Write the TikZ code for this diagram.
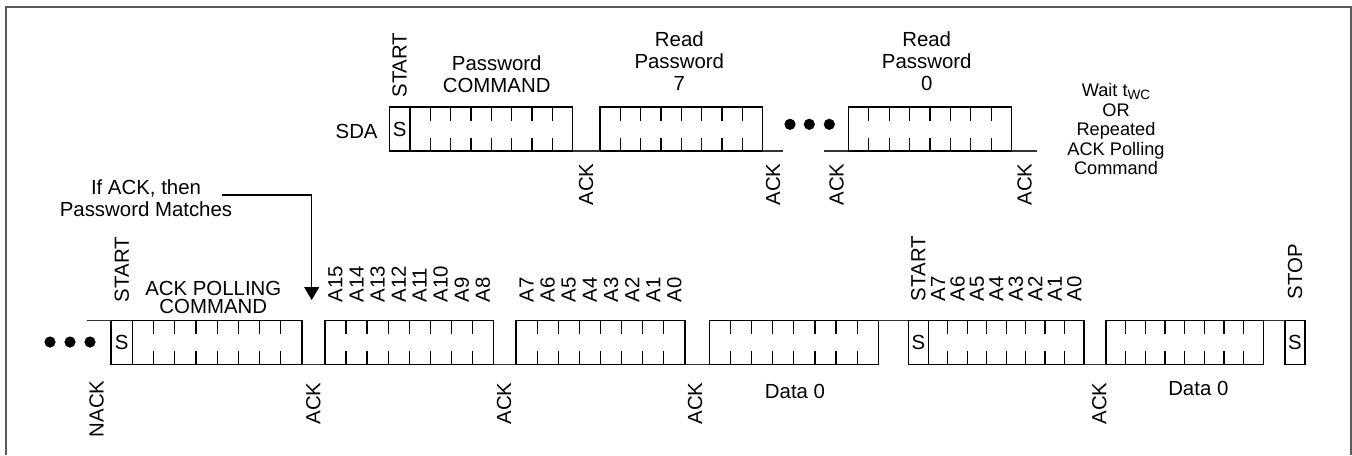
\documentclass[tikz,border=0pt]{standalone}
\usepackage{fontspec}
\setmainfont{Liberation Sans}
\usetikzlibrary{calc,arrows.meta}
\begin{document}
\begin{tikzpicture}[x=0.5pt,y=-0.5pt,
  font=\fontsize{10.2}{11}\selectfont,
  box/.style={draw, rectangle, line width=0.65pt, inner sep=0pt, outer sep=0pt, minimum height=22pt, anchor=north west},
  vlab/.style={rotate=90, inner sep=0pt},
  wire/.style={line width=0.65pt, draw=black!80},
  tick/.style={line width=0.6pt},
  ml/.style={align=center, inner sep=0pt},
  dot/.style={fill=black}]
\useasboundingbox (0,0) rectangle (1352,455);
\draw[line width=1pt, draw=black!65] (6,455) -- (6,6.7) -- (1350.5,6.7) -- (1350.5,455);

% ---------- top row ----------
\node[box, minimum width=10.35pt] (s1) at (389.3,107) {S};
\node[box, minimum width=81.35pt] (pc) at (410,107) {};
\node[box, minimum width=81.35pt] (rp7) at (600,107) {};
\node[box, minimum width=81.6pt] (rp0) at (848.3,107) {};

% ---------- bottom row ----------
\node[box, minimum width=10.75pt] (s2) at (111,320.5) {S};
\node[box, minimum width=84.75pt] (apc) at (132.5,320.5) {};
\node[box, minimum width=84.15pt] (ahi) at (325,320.5) {};
\node[box, minimum width=84.5pt] (alo) at (516,320.5) {};
\node[box, minimum width=84.5pt] (dA) at (709.3,320.5) {};
\node[box, minimum width=10pt] (s3) at (908.3,320.5) {S};
\node[box, minimum width=77.85pt] (alt) at (928.3,320.5) {};
\node[box, minimum width=78.65pt] (dB) at (1106,320.5) {};
\node[box, minimum width=10pt] (s4) at (1285,320.5) {S};

% bit ticks
\foreach \b in {pc,rp7,rp0,apc,ahi,alo,dA,alt,dB}
  \foreach \i in {1,...,7} {
    \draw[tick] ($(\b.north west)!{\i/8}!(\b.north east)$) -- ++(0,13.5);
    \draw[tick] ($(\b.south west)!{\i/8}!(\b.south east)$) -- ++(0,-13.5);
  }

% wires top
\coordinate (g1) at (783.3,151);
\coordinate (g2) at (824.3,151);
\coordinate (g3) at (1036.7,151);
\draw[wire] (pc.south east) -- (rp7.south west);
\draw[wire] (rp7.south east) -- (g1);
\draw[wire] (g2) -- (rp0.south west);
\draw[wire] (rp0.south east) -- (g3);
\foreach \x in {790,809.3,829.3} \fill[dot] (\x,124.3) circle[radius=2.8pt];

% wires bottom
\coordinate (n0) at (86.7,320.5);
\draw[wire] (n0) -- (s2.north west);
\draw[wire] (apc.south east) -- (ahi.south west);
\draw[wire] (ahi.south east) -- (alo.south west);
\draw[wire] (alo.south east) -- (dA.south west);
\draw[wire] (dA.north east) -- (s3.north west);
\draw[wire] (alt.south east) -- (dB.south west);
\draw[wire] (dB.north east) -- (s4.north west);
\foreach \x in {50,70,90} \fill[dot] (\x,342) circle[radius=2.8pt];

% labels top
\node[anchor=east, inner sep=0pt] (sda) at (378,131.7) {SDA};
\node[vlab, anchor=west] (st1) at ($(s1.north)+(0,-9)$) {START};
\node[ml] (pcl) at (496.7,74) {Password\\COMMAND};
\node[ml] (rp7l) at (679.3,61.5) {Read\\Password\\7};
\node[ml] (rp0l) at (926.7,61.5) {Read\\Password\\0};
\foreach \x/\n in {586/ka, 773/kb, 836.5/kc, 1024.5/kd}
  \node[vlab, anchor=east] (\n) at (\x,163) {ACK};
\node[ml, font=\fontsize{9.1}{9.75}\selectfont] (wait) at (1116,129)
  {Wait t\raisebox{-1.5pt}{\fontsize{6.8}{7}\selectfont WC}\\OR\\Repeated\\ACK Polling\\Command};

% labels bottom
\node[ml] (ifack) at (146,198) {If ACK, then\\Password Matches};
\coordinate (arS) at (222,195);
\coordinate (arT) at (311.7,300);
\draw[line width=0.65pt, -{Triangle[length=6.5pt,width=7.5pt]}] (arS) -- (arS -| arT) -- (arT);

\node[vlab, anchor=west] (st2) at ($(s2.north)+(0,-18)$) {START};
\node[ml, font=\fontsize{10.2}{8.6}\selectfont] (apcl) at (213.3,297.5) {ACK POLLING\\COMMAND};
\foreach \i/\t in {1/A15,2/A14,3/A13,4/A12,5/A11,6/A10,7/A9,8/A8}
  \node[vlab, anchor=west] (la\i) at ($(ahi.north west)!{(\i-0.5)/8}!(ahi.north east)+(0,-17.5)$) {\t};
\foreach \i/\t in {1/A7,2/A6,3/A5,4/A4,5/A3,6/A2,7/A1,8/A0}
  \node[vlab, anchor=west] (lb\i) at ($(alo.north west)!{(\i-0.5)/8}!(alo.north east)+(0,-17.5)$) {\t};
\foreach \i/\t in {1/A7,2/A6,3/A5,4/A4,5/A3,6/A2,7/A1,8/A0}
  \node[vlab, anchor=west] (lc\i) at ($(alt.north west)!{(\i-0.5)/8}!(alt.north east)+(0,-19)$) {\t};
\node[vlab, anchor=west] (st3) at ($(s3.north)+(0,-19)$) {START};
\node[vlab, anchor=west] (stop) at ($(s4.north)+(0,-21)$) {STOP};

\node[vlab, anchor=east] (nack) at (96.7,380) {NACK};
\foreach \x/\n in {313.3/kp, 504/kq, 695/kr, 1099.3/ks}
  \node[vlab, anchor=east] (\n) at (\x,382) {ACK};
\node (data1) at (795,391.7) {Data 0};
\node (data2) at (1198.3,388.3) {Data 0};
\end{tikzpicture}
\end{document}
